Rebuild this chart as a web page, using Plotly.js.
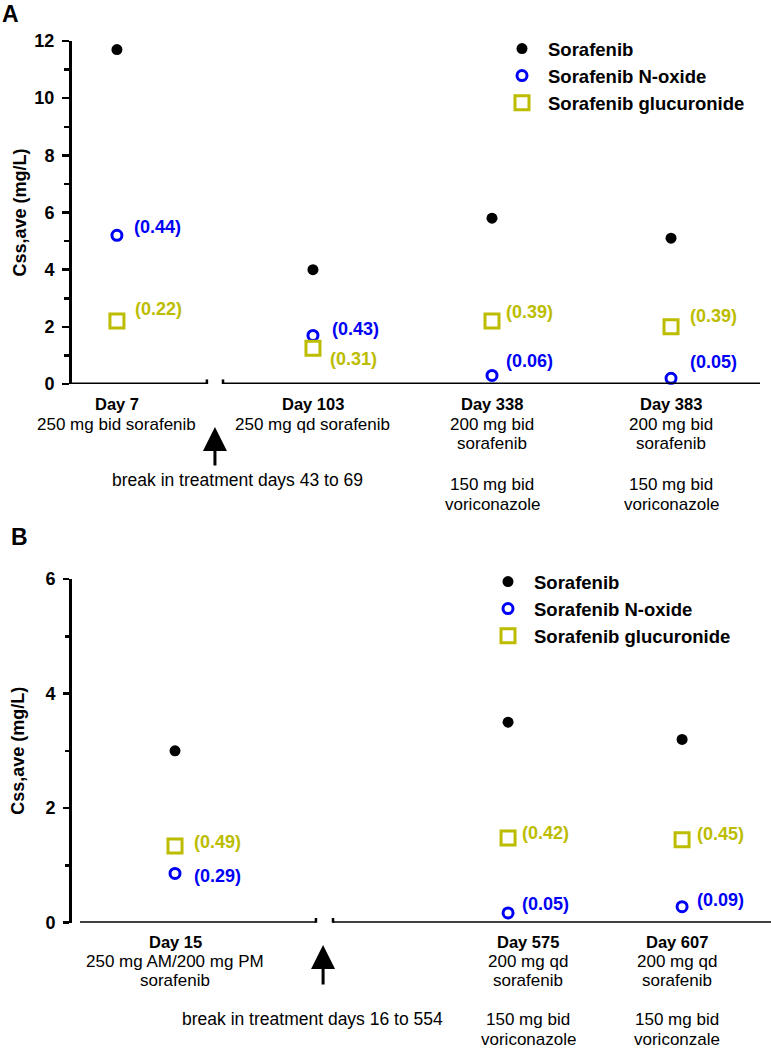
<!DOCTYPE html>
<html><head><meta charset="utf-8">
<script src="https://cdn.plot.ly/plotly-3.0.1.min.js"></script>
<style>html,body{margin:0;padding:0;background:#fff}#chart{width:771px;height:1050px}</style>
</head><body><div id="chart"></div>
<script>
// ---------- Panel A data ----------
const daysA = ['Day 7', 'Day 103', 'Day 338', 'Day 383'];
const regimenA = ['250 mg bid sorafenib', '250 mg qd sorafenib',
  '200 mg bid<br>sorafenib<br><br>150 mg bid<br>voriconazole',
  '200 mg bid<br>sorafenib<br><br>150 mg bid<br>voriconazole'];
const sorafenibA = [11.7, 4.0, 5.8, 5.1];
const noxideA = [5.2, 1.7, 0.3, 0.2];
const glucA = [2.2, 1.25, 2.2, 2.0];
const noxideRatioA = [0.44, 0.43, 0.06, 0.05];
const glucRatioA = [0.22, 0.31, 0.39, 0.39];
const breakTextA = 'break in treatment days 43 to 69';

// ---------- Panel B data ----------
const daysB = ['Day 15', 'Day 575', 'Day 607'];
const regimenB = ['250 mg AM/200 mg PM<br>sorafenib',
  '200 mg qd<br>sorafenib<br><br>150 mg bid<br>voriconazole',
  '200 mg qd<br>sorafenib<br><br>150 mg bid<br>voriconzale'];
const sorafenibB = [3.0, 3.5, 3.2];
const noxideB = [0.86, 0.17, 0.28];
const glucB = [1.34, 1.48, 1.45];
const noxideRatioB = [0.29, 0.05, 0.09];
const glucRatioB = [0.49, 0.42, 0.45];
const breakTextB = 'break in treatment days 16 to 554';

const seriesNames = ['Sorafenib', 'Sorafenib N-oxide', 'Sorafenib glucuronide'];
const yTitle = 'Css,ave (mg/L)';

// ---------- styling / layout helpers ----------
const FONT = 'Liberation Sans, Arial, Helvetica, sans-serif';
const BLACK = '#000000', BLUE = '#0000f5', OLIVE = '#bcbc00';
const W = 771, H = 1050;
const px = v => v / W;          // horizontal pixel -> paper
const py = v => 1 - v / H;      // vertical pixel -> paper

// slot positions along x (gap after the treatment break)
const posA = daysA.map((d, i) => i + (i >= 1 ? 0.095 : 0));
const posB = daysB.map((d, i) => i + (i >= 1 ? 0.914 : 0));
const rangeXA = [-0.251, 3.592];
const rangeXB = [-0.546, 3.425];
const brkA = (posA[0] + posA[1]) / 2, halfA = 0.045;
const brkB = 0.859, halfB = 0.049;

// label offsets (px) [dx, dy-up]
const noxShiftA = [[15, 8], [17, 6], [12, 14], [17, 16]];
const glucShiftA = [[16, 12], [15, -11], [12, 9], [17, 11]];
const noxShiftB = [[17, -3], [12, 9], [13, 7]];
const glucShiftB = [[17, 4], [12, 5], [13, 6]];
const regShiftB = [0, 20, -5];

function traces(pos, s, n, g, xa, ya, leg) {
  return [
    {x: pos, y: s, name: seriesNames[0], type: 'scatter', mode: 'markers', xaxis: xa, yaxis: ya, legend: leg,
     cliponaxis: false, marker: {symbol: 'circle', size: 11, color: BLACK}},
    {x: pos, y: n, name: seriesNames[1], type: 'scatter', mode: 'markers', xaxis: xa, yaxis: ya, legend: leg,
     cliponaxis: false, marker: {symbol: 'circle-open', size: 10, color: BLUE, line: {width: 3, color: BLUE}}},
    {x: pos, y: g, name: seriesNames[2], type: 'scatter', mode: 'markers', xaxis: xa, yaxis: ya, legend: leg,
     cliponaxis: false, marker: {symbol: 'square-open', size: 14, color: OLIVE, line: {width: 3, color: OLIVE}}}
  ];
}

const data = [].concat(
  traces(posA, sorafenibA, noxideA, glucA, 'x', 'y', 'legend'),
  traces(posB, sorafenibB, noxideB, glucB, 'x2', 'y2', 'legend2')
);

const annotations = [];
function valueLabels(pos, vals, ratios, shifts, color, xr, yr) {
  pos.forEach((p, i) => annotations.push({
    x: p, y: vals[i], xref: xr, yref: yr, xanchor: 'left', yanchor: 'middle',
    xshift: shifts[i][0], yshift: shifts[i][1], showarrow: false,
    text: '(' + ratios[i].toFixed(2) + ')',
    font: {family: FONT, size: 18, color: color, weight: 'bold'}
  }));
}
valueLabels(posA, noxideA, noxideRatioA, noxShiftA, BLUE, 'x', 'y');
valueLabels(posA, glucA, glucRatioA, glucShiftA, OLIVE, 'x', 'y');
valueLabels(posB, noxideB, noxideRatioB, noxShiftB, BLUE, 'x2', 'y2');
valueLabels(posB, glucB, glucRatioB, glucShiftB, OLIVE, 'x2', 'y2');

// category labels below the axis, one annotation per line
function catLabels(pos, days, regs, xr, firstPx, lineH, shifts) {
  pos.forEach((p, i) => {
    const lines = ['<b>' + days[i] + '</b>'].concat(regs[i].split('<br>'));
    lines.forEach((t, j) => {
      if (!t) return;
      annotations.push({
        x: p, y: py(firstPx + j * lineH), xref: xr, yref: 'paper', xanchor: 'center', yanchor: 'middle',
        xshift: shifts ? shifts[i] : 0, showarrow: false, text: t, borderpad: 0,
        font: {family: FONT, size: j === 0 ? 16.5 : 17, color: BLACK}
      });
    });
  });
}
catLabels(posA, daysA, regimenA, 'x', 404, 20);
catLabels(posB, daysB, regimenB, 'x2', 942, 19.4, regShiftB);

// break notes + arrows
annotations.push({x: px(237), y: py(480), xref: 'paper', yref: 'paper', xanchor: 'center', yanchor: 'middle',
  showarrow: false, text: breakTextA, font: {family: FONT, size: 17.5, color: BLACK}});
annotations.push({x: px(312), y: py(1019), xref: 'paper', yref: 'paper', xanchor: 'center', yanchor: 'middle',
  showarrow: false, text: breakTextB, font: {family: FONT, size: 17.5, color: BLACK}});
annotations.push({x: brkA, y: py(427), xref: 'x', yref: 'paper', text: '', showarrow: true,
  arrowhead: 2, arrowsize: 1.6, arrowwidth: 3, arrowcolor: BLACK, ax: 0, ay: 40});
annotations.push({x: brkB - 0.008, y: py(945), xref: 'x2', yref: 'paper', text: '', showarrow: true,
  arrowhead: 2, arrowsize: 1.6, arrowwidth: 3, arrowcolor: BLACK, ax: 0, ay: 41});

// panel letters
annotations.push({x: px(1), y: 1, xref: 'paper', yref: 'paper', xanchor: 'left', yanchor: 'top', borderpad: 0,
  showarrow: false, text: '<b>A</b>', font: {family: FONT, size: 23, color: BLACK}});
annotations.push({x: px(9), y: py(522), xref: 'paper', yref: 'paper', xanchor: 'left', yanchor: 'top',
  showarrow: false, text: '<b>B</b>', font: {family: FONT, size: 23, color: BLACK}});

// broken x axes
function brokenAxis(xr, yr, range, brk, half, tickH) {
  const ln = {color: BLACK, width: 3};
  return [
    {type: 'line', xref: xr, yref: yr, x0: range[0], x1: brk - half, y0: 0, y1: 0, line: ln},
    {type: 'line', xref: xr, yref: yr, x0: brk + half, x1: range[1], y0: 0, y1: 0, line: ln},
    {type: 'line', xref: xr, yref: yr, x0: brk - half, x1: brk - half, y0: -tickH, y1: tickH, line: {color: BLACK, width: 2.5}},
    {type: 'line', xref: xr, yref: yr, x0: brk + half, x1: brk + half, y0: -tickH, y1: tickH, line: {color: BLACK, width: 2.5}}
  ];
}
const shapes = [].concat(
  brokenAxis('x', 'y', rangeXA, brkA, halfA, 0.16),
  brokenAxis('x2', 'y2', rangeXB, brkB, halfB, 0.08)
);

function yAxis(domain, range, majLen, minLen, standoff) {
  return {
    domain: domain, range: range, dtick: 2, tick0: 0,
    showline: true, linecolor: BLACK, linewidth: 3, zeroline: false, showgrid: false,
    ticks: 'outside', ticklen: majLen, tickwidth: 2.5, tickcolor: BLACK, ticklabelstandoff: 4,
    minor: {ticks: 'outside', ticklen: minLen, tickwidth: 2.5, tickcolor: BLACK, dtick: 1, showgrid: false},
    tickfont: {family: FONT, size: 18, color: BLACK, weight: 'bold'},
    title: {text: yTitle, font: {family: FONT, size: 18, color: BLACK, weight: 'bold'}, standoff: standoff},
    fixedrange: true
  };
}
function xAxis(domain, range, anchor) {
  return {domain: domain, range: range, anchor: anchor, visible: false, showgrid: false, zeroline: false, fixedrange: true};
}

const legendFont = {family: FONT, size: 18.5, color: BLACK, weight: 'bold'};
const layout = {
  width: W, height: H,
  margin: {l: 0, r: 0, t: 0, b: 0},
  paper_bgcolor: '#fff', plot_bgcolor: 'rgba(0,0,0,0)',
  showlegend: true,
  xaxis: xAxis([px(72), px(760)], rangeXA, 'y'),
  yaxis: yAxis([py(384), py(41)], [0, 12], 7, 5, 4),
  xaxis2: xAxis([px(80), 1], rangeXB, 'y2'),
  yaxis2: yAxis([py(922.7), py(579)], [0, 6], 6, 4, 17),
  legend: {x: px(496), y: py(30), xanchor: 'left', yanchor: 'top', font: legendFont,
    bgcolor: 'rgba(0,0,0,0)', borderwidth: 0, itemwidth: 42, tracegroupgap: 0},
  legend2: {x: px(482), y: py(563), xanchor: 'left', yanchor: 'top', font: legendFont,
    bgcolor: 'rgba(0,0,0,0)', borderwidth: 0, itemwidth: 42, tracegroupgap: 0},
  annotations: annotations,
  shapes: shapes
};

Plotly.newPlot('chart', data, layout, {displayModeBar: false, staticPlot: true});
</script>
</body></html>
